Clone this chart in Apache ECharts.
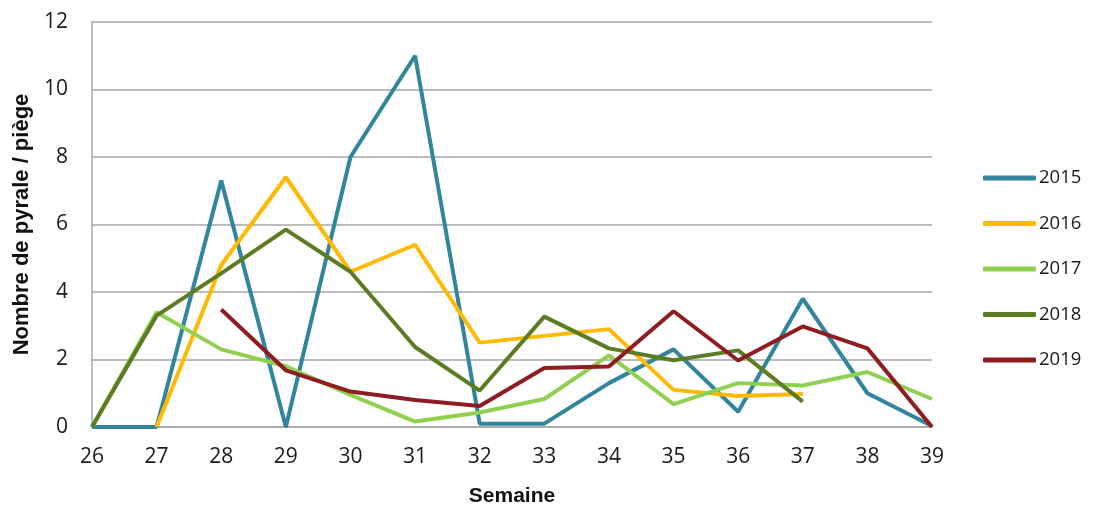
<!DOCTYPE html>
<html><head><meta charset="utf-8">
<script src="https://cdn.jsdelivr.net/npm/echarts@6/dist/echarts.min.js"></script>
<style>html,body{margin:0;padding:0;background:#fff}#c{width:1095px;height:507px}</style>
</head><body><div id="c"></div>
<script>
const weeks = ['26','27','28','29','30','31','32','33','34','35','36','37','38','39'];
const s2015 = [0, 0, 7.3, 0, 8, 11, 0.1, 0.1, 1.3, 2.3, 0.45, 3.8, 1.0, 0.03];
const s2016 = [null, 0, 4.8, 7.4, 4.6, 5.4, 2.5, 2.7, 2.9, 1.1, 0.92, 0.98, null, null];
const s2017 = [0, 3.4, 2.3, 1.8, 0.95, 0.16, 0.43, 0.83, 2.12, 0.68, 1.3, 1.23, 1.63, 0.83];
const s2018 = [0, 3.3, 4.55, 5.85, 4.6, 2.37, 1.08, 3.27, 2.33, 1.98, 2.27, 0.75, null, null];
const s2019 = [null, null, 3.48, 1.68, 1.05, 0.8, 0.62, 1.75, 1.79, 3.43, 1.97, 2.98, 2.33, 0];
const names = ['2015','2016','2017','2018','2019'];
const colors = ['#31859C','#FFB900','#8FD14F','#5B7C22','#8E1C20'];
const data = [s2015, s2016, s2017, s2018, s2019];
const chart = echarts.init(document.getElementById('c'));
chart.setOption({
  animation: false,
  grid: {left: 92, right: 163, top: 22, bottom: 80, containLabel: false, outerBoundsMode: 'none'},
  legend: {
    orient: 'vertical', left: 983, top: 168, padding: 0, itemWidth: 53, itemHeight: 5, itemGap: 25.5,
    icon: 'roundRect',
    textStyle: {fontFamily: 'Open Sans', fontSize: 18.5, color: '#1a1a1a', lineHeight: 20, padding: [0,0,0,-2]},
    data: names
  },
  xAxis: {
    type: 'category', data: weeks, boundaryGap: false,
    name: 'Semaine', nameLocation: 'middle', nameGap: 59,
    nameTextStyle: {fontFamily: 'Liberation Sans', fontWeight: 'bold', fontSize: 21, color: '#111'},
    axisLine: {lineStyle: {color: '#A6A6A6', width: 1.5}},
    axisTick: {show: false},
    axisLabel: {fontFamily: 'Open Sans', fontSize: 21, color: '#1a1a1a', margin: 20},
    splitLine: {show: false}
  },
  yAxis: {
    type: 'value', min: 0, max: 12, interval: 2,
    name: 'Nombre de pyrale / piège', nameLocation: 'middle', nameGap: 49,
    nameTextStyle: {fontFamily: 'Liberation Sans', fontWeight: 'bold', fontSize: 22, color: '#111'},
    axisLine: {show: true, lineStyle: {color: '#A6A6A6', width: 1.5}},
    axisTick: {show: false},
    axisLabel: {fontFamily: 'Open Sans', fontSize: 21, color: '#1a1a1a', margin: 24},
    splitLine: {lineStyle: {color: '#A6A6A6', width: 1.5}}
  },
  series: names.map((n, i) => ({
    name: n, type: 'line', data: data[i], showSymbol: false, symbol: 'none',
    connectNulls: false,
    lineStyle: {width: 4, color: colors[i]}, itemStyle: {color: colors[i]}
  }))
});
</script></body></html>
